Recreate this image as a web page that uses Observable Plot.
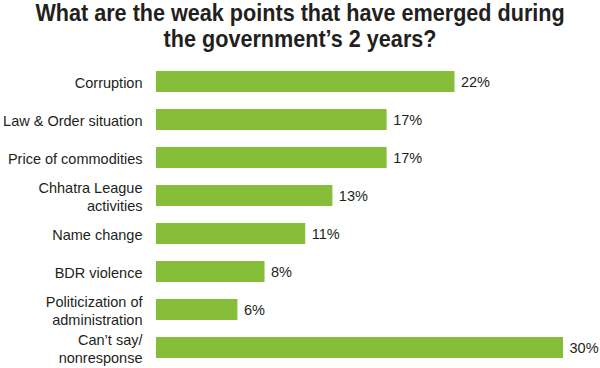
<!DOCTYPE html>
<html>
<head>
<meta charset="utf-8">
<script src="https://cdn.jsdelivr.net/npm/d3@7"></script>
<script src="https://cdn.jsdelivr.net/npm/@observablehq/plot@0.6"></script>
<style>
  html, body { margin: 0; padding: 0; background: #fff; }
  #title { width: 600px; height: 61px; text-align: center; font-family: "Liberation Sans", Arial, sans-serif; font-weight: bold; font-size: 24px; line-height: 26px; color: #231f20; }
  #title span { display: inline-block; transform: scaleX(0.9); transform-origin: 50% 50%; white-space: nowrap; }
  #chart svg { display: block; }
</style>
</head>
<body>
<div id="title"><span>What are the weak points that have emerged during<br>the government’s 2 years?</span></div>
<div id="chart"></div>
<script>
const categories = ["Corruption", "Law & Order situation", "Price of commodities", "Chhatra League\nactivities", "Name change", "BDR violence", "Politicization of\nadministration", "Can’t say/\nnonresponse"];
const values = [22, 17, 17, 13, 11, 8, 6, 30];

const data = categories.map((c, i) => ({category: c, value: values[i]}));

const chart = Plot.plot({
  width: 600,
  height: 307,
  marginTop: 0,
  marginBottom: 0,
  marginLeft: 156,
  marginRight: 37,
  style: {fontFamily: "'Liberation Sans', Arial, sans-serif", fontSize: "14.5px", color: "#231f20", background: "#fff"},
  x: {domain: [0, 30], axis: null},
  y: {domain: categories, paddingInner: 0.45, paddingOuter: 0.225, label: null},
  marks: [
    Plot.barX(data, {x: "value", y: "category", fill: "#86BE3A"}),
    Plot.text(data, {x: "value", y: "category", text: d => d.value + "%", textAnchor: "start", dx: 6, fontSize: 14.5, fill: "#231f20"}),
    Plot.axisY({tickSize: 0, tickPadding: 14, fontSize: 14.5, lineHeight: 1.25, label: null})
  ]
});
document.getElementById("chart").appendChild(chart);
</script>
</body>
</html>
